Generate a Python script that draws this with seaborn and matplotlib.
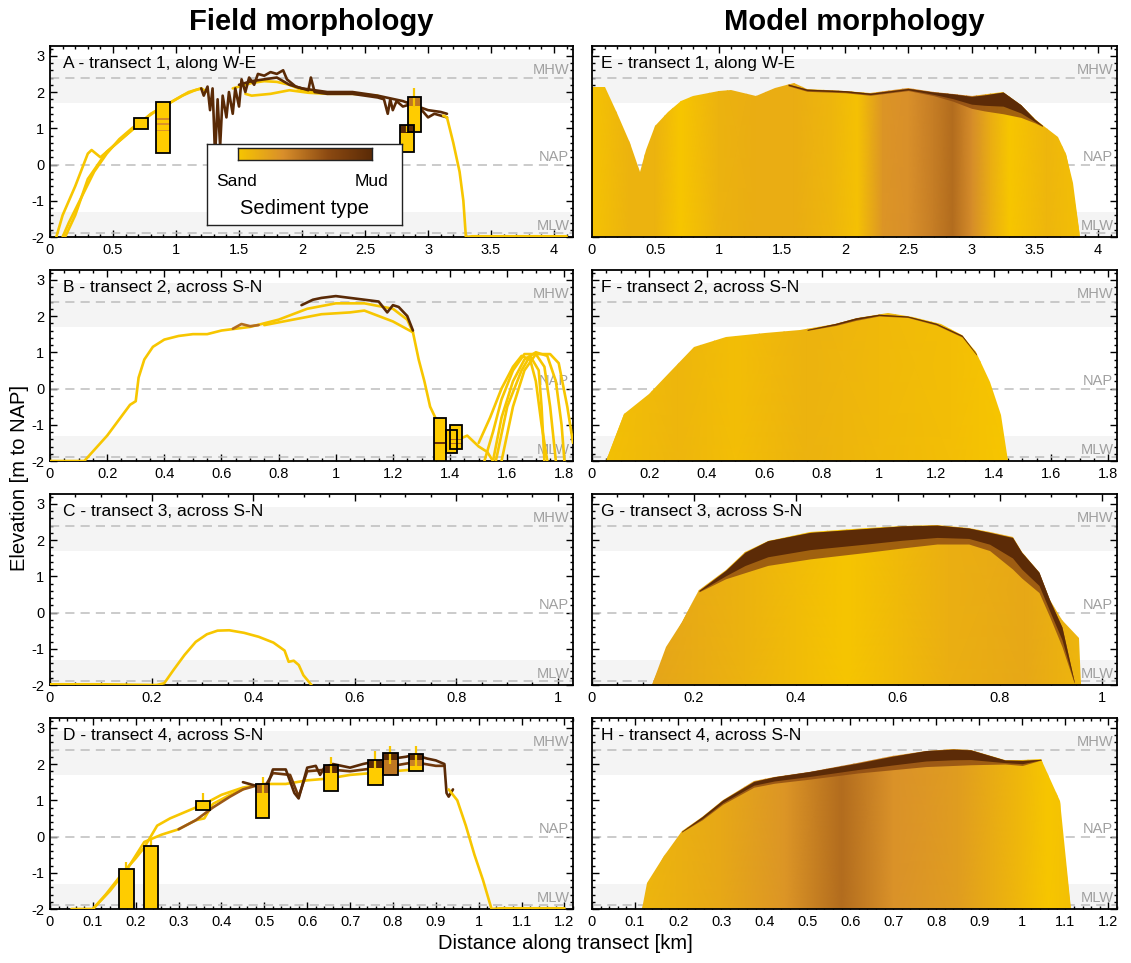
import numpy as np
import matplotlib
matplotlib.use("Agg")
import matplotlib.pyplot as plt
import seaborn as sns
from matplotlib.colors import LinearSegmentedColormap
from matplotlib.patches import PathPatch
from matplotlib.path import Path
from matplotlib.ticker import MultipleLocator, AutoMinorLocator, FuncFormatter

sns.set_theme(style="ticks")
plt.rcParams['font.family'] = ['Liberation Sans', 'DejaVu Sans']
plt.rcParams['text.color'] = 'black'
plt.rcParams['axes.labelcolor'] = 'black'
plt.rcParams['xtick.color'] = 'black'
plt.rcParams['ytick.color'] = 'black'

SED_COLORS = ['#F7C600', '#D98F2B', '#8C4A12', '#5A2A06']
sed_cmap = LinearSegmentedColormap.from_list('sediment', SED_COLORS)
CORE_FILL = '#FFCC00'
MUD_DARK = '#5C2B07'

# ---------------- axis settings ----------------
ROW_XLIM = [4.15, 1.83, 1.03, 1.22]
ROW_MAJOR = [0.5, 0.2, 0.2, 0.1]
FIELD_TITLES = ['A - transect 1, along W-E', 'B - transect 2, across S-N',
                'C - transect 3, across S-N', 'D - transect 4, across S-N']
MODEL_TITLES = ['E - transect 1, along W-E', 'F - transect 2, across S-N',
                'G - transect 3, across S-N', 'H - transect 4, across S-N']
LEVEL_NAMES = ['MHW', 'NAP', 'MLW']
LEVEL_VALUES = [2.4, 0.0, -1.9]
BAND_LOW = [1.7, -2.0]
BAND_HIGH = [2.9, -1.3]

# ---------------- field data (profiles: x [km], z [m], mud fraction) ----------------
A1_x = [0.05, 0.1, 0.2, 0.3, 0.33, 0.4, 0.5, 0.6, 0.7, 0.8, 0.9, 1.0, 1.1, 1.2, 1.25]
A1_z = [-2.0, -1.4, -0.6, 0.3, 0.4, 0.2, 0.5, 0.8, 1.1, 1.4, 1.6, 1.8, 2.0, 2.1, 2.0]
A2_x = [0.1, 0.15, 0.25, 0.35, 0.45, 0.55, 0.65, 0.75, 0.85, 0.95, 1.05, 1.15, 1.2]
A2_z = [-2.0, -1.6, -0.9, -0.2, 0.3, 0.7, 1.0, 1.25, 1.5, 1.7, 1.9, 2.05, 2.1]
A3_x = [0.12, 0.2, 0.3, 0.38, 0.45, 0.55, 0.7]
A3_z = [-2.0, -1.4, -0.4, 0.0, 0.35, 0.65, 1.1]
A4_x = [1.45, 1.5, 1.6, 1.7, 1.8, 1.9, 2.0, 2.05, 2.1]
A4_z = [2.1, 2.15, 2.25, 2.3, 2.28, 2.2, 2.05, 2.0, 2.0]
A5_x = [1.55, 1.6, 1.75, 1.9, 2.05, 2.2, 2.4, 2.6]
A5_z = [1.95, 1.9, 1.95, 2.05, 1.98, 1.95, 1.95, 1.9]
A6_x = [1.2, 1.22, 1.25, 1.27, 1.29, 1.3, 1.31, 1.33, 1.35, 1.37, 1.4, 1.42, 1.45, 1.47,
        1.5, 1.52, 1.55, 1.58, 1.62, 1.65, 1.7, 1.75, 1.8, 1.85, 1.88, 1.95, 2.0, 2.05,
        2.07, 2.1, 2.2, 2.3, 2.4, 2.5, 2.6, 2.65, 2.68, 2.7, 2.72, 2.75, 2.8, 2.85, 2.9,
        2.95, 3.0, 3.05, 3.1, 3.15]
A6_z = [2.1, 1.9, 2.15, 1.5, 2.1, 1.2, 0.2, 1.8, 0.5, 1.9, 1.3, 2.0, 1.4, 2.1,
        1.6, 2.35, 2.0, 2.4, 2.2, 2.5, 2.45, 2.55, 2.5, 2.6, 2.35, 2.15, 2.1, 2.05,
        2.4, 2.0, 1.95, 1.95, 1.95, 1.9, 1.85, 1.8, 1.4, 1.8, 1.5, 1.75, 1.6, 1.65, 1.4,
        1.5, 1.3, 1.4, 1.35, 1.3]
A7_x = [1.5, 1.6, 1.7, 1.8, 1.9, 2.0, 2.2, 2.4, 2.6, 2.8, 3.0, 3.1, 3.15]
A7_z = [2.2, 2.3, 2.35, 2.4, 2.2, 2.1, 2.0, 2.0, 1.9, 1.75, 1.5, 1.45, 1.4]
A8_x = [3.12, 3.15, 3.2, 3.25, 3.28, 3.3, 3.35, 4.1]
A8_z = [1.35, 1.3, 0.6, -0.2, -1.0, -2.0, -1.98, -1.98]
A_profiles = [(A1_x, A1_z, 0.0), (A2_x, A2_z, 0.0), (A3_x, A3_z, 0.0), (A4_x, A4_z, 0.0),
              (A5_x, A5_z, 0.0), (A7_x, A7_z, 1.0), (A6_x, A6_z, 1.0), (A8_x, A8_z, 0.0)]

B1_x = [0.0, 0.12, 0.2, 0.28, 0.3, 0.31, 0.33, 0.36, 0.4, 0.45, 0.5, 0.55, 0.6, 0.7, 0.8,
        0.9, 1.0, 1.1, 1.2, 1.25, 1.27, 1.29, 1.31, 1.33, 1.36, 1.38, 1.4, 1.43, 1.46,
        1.5, 1.53, 1.55]
B1_z = [-2.0, -2.0, -1.3, -0.45, -0.35, 0.3, 0.8, 1.15, 1.35, 1.45, 1.5, 1.5, 1.6, 1.7,
        1.9, 2.2, 2.35, 2.35, 2.2, 1.9, 1.55, 0.8, 0.2, -0.5, -1.0, -1.4, -1.6, -1.4,
        -1.3, -1.6, -1.75, -2.0]
B2_x = [0.75, 0.85, 0.95, 1.05, 1.1, 1.15, 1.2, 1.27]
B2_z = [1.75, 1.9, 2.05, 2.1, 2.15, 2.0, 1.85, 1.55]
B3_x = [0.88, 0.92, 0.95, 1.0, 1.05, 1.1, 1.15, 1.18, 1.2, 1.22, 1.25, 1.27]
B3_z = [2.3, 2.45, 2.5, 2.55, 2.5, 2.45, 2.4, 2.1, 2.3, 2.25, 2.0, 1.6]
B4_x = [0.64, 0.67, 0.7, 0.73]
B4_z = [1.65, 1.78, 1.72, 1.75]
B5_x = [1.52, 1.55, 1.58, 1.62, 1.66, 1.7, 1.73, 1.75, 1.77]
B5_z = [-2.0, -1.2, -0.3, 0.5, 0.95, 0.95, 0.6, -0.5, -2.0]
B6_x = [1.55, 1.58, 1.62, 1.66, 1.7, 1.74, 1.77, 1.79, 1.8]
B6_z = [-2.0, -0.8, 0.2, 0.8, 1.0, 0.9, 0.2, -1.0, -2.0]
B7_x = [1.58, 1.62, 1.66, 1.7, 1.75, 1.78, 1.81, 1.83]
B7_z = [-2.0, -0.5, 0.5, 0.95, 0.95, 0.7, -0.5, -1.5]
B8_x = [1.5, 1.54, 1.58, 1.62, 1.65, 1.68, 1.7, 1.72, 1.74]
B8_z = [-1.5, -0.8, 0.0, 0.6, 0.9, 0.8, 0.2, -1.0, -2.0]
B9_x = [1.56, 1.6, 1.65, 1.68, 1.71, 1.72, 1.73]
B9_z = [-2.0, -0.5, 0.5, 0.9, 0.5, -0.5, -2.0]
B_profiles = [(B1_x, B1_z, 0.0), (B2_x, B2_z, 0.0), (B3_x, B3_z, 1.0), (B4_x, B4_z, 0.5),
              (B5_x, B5_z, 0.0), (B6_x, B6_z, 0.0), (B7_x, B7_z, 0.0), (B8_x, B8_z, 0.0),
              (B9_x, B9_z, 0.0)]

C1_x = [0.0, 0.1, 0.21, 0.225, 0.243, 0.265, 0.287, 0.309, 0.33, 0.353, 0.382, 0.411,
        0.44, 0.462, 0.47, 0.48, 0.49, 0.499, 0.515]
C1_z = [-1.98, -1.98, -2.0, -1.95, -1.59, -1.17, -0.81, -0.6, -0.5, -0.49, -0.56, -0.67,
        -0.83, -1.05, -1.36, -1.33, -1.45, -1.73, -2.0]
C_profiles = [(C1_x, C1_z, 0.0)]

D1_x = [0.05, 0.1, 0.13, 0.17, 0.2, 0.22, 0.25, 0.28, 0.32, 0.36, 0.4, 0.45, 0.5, 0.55,
        0.6, 0.65, 0.7, 0.75, 0.8, 0.85]
D1_z = [-2.0, -2.0, -1.6, -1.0, -0.6, -0.3, 0.3, 0.5, 0.7, 0.9, 1.15, 1.35, 1.45, 1.45,
        1.55, 1.6, 1.7, 1.75, 1.8, 1.85]
D2_x = [0.1, 0.14, 0.18, 0.22, 0.26, 0.3, 0.34, 0.36, 0.38, 0.42, 0.45]
D2_z = [-2.0, -1.5, -0.9, -0.15, 0.05, 0.2, 0.45, 0.5, 0.9, 1.15, 1.3]
D3_x = [0.3, 0.34, 0.38, 0.42, 0.45, 0.48]
D3_z = [0.2, 0.45, 0.8, 1.1, 1.3, 1.4]
D4_x = [0.45, 0.48, 0.5, 0.51, 0.52, 0.55, 0.57, 0.58, 0.6, 0.62, 0.63, 0.64, 0.66, 0.7,
        0.73, 0.75, 0.78, 0.8, 0.83, 0.85, 0.88, 0.9, 0.92, 0.925, 0.93, 0.94]
D4_z = [1.5, 1.4, 1.3, 1.5, 1.85, 1.85, 1.2, 1.05, 1.9, 1.95, 1.7, 1.9, 2.0, 1.9,
        2.0, 2.05, 2.1, 2.15, 2.2, 2.25, 2.15, 2.1, 2.0, 1.2, 1.1, 1.3]
D5_x = [0.5, 0.52, 0.56, 0.58, 0.6, 0.65, 0.7, 0.8, 0.85, 0.9, 0.92]
D5_z = [1.35, 1.75, 1.7, 1.1, 1.8, 1.85, 1.8, 1.95, 2.05, 1.95, 1.95]
D6_x = [0.93, 0.95, 0.97, 0.99, 1.01, 1.03, 1.05, 1.2]
D6_z = [1.3, 1.0, 0.3, -0.5, -1.2, -2.0, -1.98, -1.98]
D_profiles = [(D1_x, D1_z, 0.0), (D2_x, D2_z, 0.0), (D3_x, D3_z, 0.6), (D5_x, D5_z, 0.85),
              (D4_x, D4_z, 1.0), (D6_x, D6_z, 0.0)]

FIELD_PROFILES = [A_profiles, B_profiles, C_profiles, D_profiles]

# ---------------- sediment cores (left edge, width, bottom, top) ----------------
A_core_left = [0.67, 0.84, 2.78, 2.84]
A_core_w = [0.11, 0.11, 0.11, 0.10]
A_core_bot = [0.99, 0.31, 0.34, 0.91]
A_core_top = [1.29, 1.72, 1.08, 1.87]
B_core_left = [1.345, 1.385, 1.40]
B_core_w = [0.04, 0.04, 0.04]
B_core_bot = [-2.0, -1.78, -1.68]
B_core_top = [-0.8, -1.15, -1.0]
C_core_left, C_core_w, C_core_bot, C_core_top = [], [], [], []
D_core_left = [0.162, 0.219, 0.341, 0.480, 0.638, 0.741, 0.777, 0.837]
D_core_w = [0.033, 0.033, 0.033, 0.032, 0.033, 0.035, 0.034, 0.034]
D_core_bot = [-2.0, -2.0, 0.72, 0.5, 1.25, 1.42, 1.7, 1.8]
D_core_top = [-0.9, -0.25, 0.98, 1.45, 1.98, 2.1, 2.3, 2.28]
CORES = [(A_core_left, A_core_w, A_core_bot, A_core_top),
         (B_core_left, B_core_w, B_core_bot, B_core_top),
         (C_core_left, C_core_w, C_core_bot, C_core_top),
         (D_core_left, D_core_w, D_core_bot, D_core_top)]

# core layers (left, width, bottom, top, mud)
A_lay_left = [0.84, 0.84, 0.84, 2.78, 2.84]
A_lay_w = [0.11, 0.11, 0.11, 0.11, 0.10]
A_lay_bot = [1.22, 1.10, 0.92, 0.86, 1.62]
A_lay_top = [1.28, 1.14, 0.95, 1.08, 1.85]
A_lay_mud = [0.35, 0.3, 0.3, 1.0, 0.45]
B_lay_left = [1.345, 1.40, 1.40]
B_lay_w = [0.04, 0.04, 0.04]
B_lay_bot = [-1.53, -1.52, -1.42]
B_lay_top = [-1.48, -1.49, -1.39]
B_lay_mud = [0.9, 0.5, 0.5]
C_lay_left, C_lay_w, C_lay_bot, C_lay_top, C_lay_mud = [], [], [], [], []
D_lay_left = [0.480, 0.638, 0.741, 0.777, 0.777, 0.837, 0.837]
D_lay_w = [0.032, 0.033, 0.035, 0.034, 0.034, 0.034, 0.034]
D_lay_bot = [1.2, 1.75, 1.88, 2.1, 1.7, 2.1, 1.95]
D_lay_top = [1.45, 1.98, 2.1, 2.3, 2.1, 2.28, 2.1]
D_lay_mud = [0.55, 1.0, 1.0, 1.0, 0.45, 1.0, 0.4]
LAYERS = [(A_lay_left, A_lay_w, A_lay_bot, A_lay_top, A_lay_mud),
          (B_lay_left, B_lay_w, B_lay_bot, B_lay_top, B_lay_mud),
          (C_lay_left, C_lay_w, C_lay_bot, C_lay_top, C_lay_mud),
          (D_lay_left, D_lay_w, D_lay_bot, D_lay_top, D_lay_mud)]

# yellow core markers (x, low, high)
A_stick_x, A_stick_lo, A_stick_hi = [2.89, 2.83], [1.6, 0.9], [2.1, 1.05]
B_stick_x, B_stick_lo, B_stick_hi = [], [], []
C_stick_x, C_stick_lo, C_stick_hi = [], [], []
D_stick_x = [0.178, 0.235, 0.357, 0.496, 0.655, 0.758, 0.794, 0.854]
D_stick_lo = [-0.9, -0.25, 0.95, 1.2, 1.75, 1.85, 2.0, 1.95]
D_stick_hi = [-0.7, -0.1, 1.2, 1.65, 2.2, 2.35, 2.5, 2.5]
STICKS = [(A_stick_x, A_stick_lo, A_stick_hi), (B_stick_x, B_stick_lo, B_stick_hi),
          (C_stick_x, C_stick_lo, C_stick_hi), (D_stick_x, D_stick_lo, D_stick_hi)]

# ---------------- model data ----------------
E_x = [0.0, 0.1, 0.2, 0.3, 0.38, 0.43, 0.5, 0.6, 0.7, 0.8, 1.0, 1.1, 1.3, 1.45, 1.6, 1.7,
       2.0, 2.2, 2.5, 2.7, 3.0, 3.25, 3.39, 3.5, 3.58, 3.68, 3.75, 3.8, 3.86]
E_z = [2.15, 2.15, 1.42, 0.58, -0.2, 0.4, 1.05, 1.46, 1.74, 1.88, 2.02, 2.06, 1.9, 2.1, 2.25,
       2.08, 2.04, 1.97, 2.1, 2.0, 1.88, 2.0, 1.65, 1.25, 1.03, 0.75, 0.3, -0.5, -2.0]
E_grad_x = [0.0, 0.3, 0.5, 0.7, 1.0, 1.3, 1.6, 1.9, 2.1, 2.3, 2.5, 2.7, 2.85, 3.0, 3.15,
            3.3, 3.6, 3.86]
E_grad_m = [0.02, 0.12, 0.12, 0.0, 0.12, 0.15, 0.15, 0.1, 0.03, 0.3, 0.33, 0.42, 0.5,
            0.35, 0.15, 0.0, 0.1, 0.04]
E_mud_x = [1.55, 1.7, 2.0, 2.2, 2.5, 2.7, 2.85, 3.0, 3.1, 3.25, 3.39, 3.5, 3.56]
E_mud_top = [2.22, 2.08, 2.04, 1.97, 2.1, 2.0, 1.95, 1.88, 1.92, 2.0, 1.65, 1.25, 1.08]
E_mud_base = [2.17, 2.02, 1.98, 1.91, 2.04, 1.9, 1.75, 1.55, 1.48, 1.4, 1.3, 1.15, 1.05]

F_x = [0.05, 0.112, 0.198, 0.272, 0.357, 0.468, 0.603, 0.726, 0.848, 0.922, 1.032, 1.118,
       1.216, 1.29, 1.339, 1.388, 1.425, 1.45]
F_z = [-2.0, -0.69, -0.14, 0.46, 1.15, 1.43, 1.52, 1.61, 1.79, 1.95, 2.07, 1.98, 1.79, 1.47,
       1.01, 0.18, -0.74, -2.0]
F_grad_x = [0.05, 0.3, 0.5, 0.75, 1.0, 1.25, 1.45]
F_grad_m = [0.04, 0.1, 0.05, 0.12, 0.08, 0.05, 0.0]
F_mud_x = [0.75, 0.85, 0.92, 1.0, 1.1, 1.2, 1.29, 1.34]
F_mud_top = [1.63, 1.8, 1.95, 2.05, 2.0, 1.8, 1.47, 0.95]
F_mud_base = [1.6, 1.74, 1.88, 2.0, 1.96, 1.75, 1.42, 0.92]

G_x = [0.117, 0.145, 0.176, 0.21, 0.262, 0.30, 0.345, 0.428, 0.539, 0.608, 0.677, 0.739,
       0.78, 0.825, 0.843, 0.877, 0.898, 0.922, 0.956, 0.96]
G_z = [-2.0, -0.94, -0.26, 0.61, 1.16, 1.66, 1.98, 2.21, 2.32, 2.39, 2.41, 2.33, 2.21, 2.07,
       1.66, 1.11, 0.34, -0.21, -0.71, -2.0]
G_grad_x = [0.117, 0.3, 0.5, 0.7, 0.85, 0.96]
G_grad_m = [0.2, 0.12, 0.01, 0.14, 0.18, 0.1]
G_mud_x = [0.21, 0.262, 0.30, 0.345, 0.428, 0.539, 0.608, 0.677, 0.739, 0.78, 0.825, 0.843,
           0.877, 0.898, 0.922, 0.946]
G_mud_top = [0.61, 1.16, 1.66, 1.98, 2.21, 2.32, 2.39, 2.41, 2.33, 2.21, 2.07, 1.66, 1.11,
             0.34, -0.4, -1.9]
G_mud_base = [0.57, 0.93, 1.1, 1.30, 1.48, 1.66, 1.78, 1.89, 1.89, 1.71, 1.2, 0.95, 0.55,
              -0.12, -0.94, -1.95]

H_x = [0.116, 0.128, 0.168, 0.208, 0.256, 0.304, 0.376, 0.424, 0.504, 0.616, 0.696, 0.776,
       0.84, 0.88, 0.92, 0.96, 1.0, 1.044, 1.088, 1.112]
H_z = [-2.0, -1.29, -0.55, 0.14, 0.55, 1.01, 1.52, 1.65, 1.79, 2.02, 2.21, 2.37, 2.41, 2.39,
       2.25, 2.11, 2.1, 2.13, 0.97, -2.0]
H_grad_x = [0.116, 0.3, 0.45, 0.58, 0.7, 0.85, 1.0, 1.06, 1.112]
H_grad_m = [0.1, 0.18, 0.3, 0.5, 0.32, 0.25, 0.08, 0.0, 0.04]
H_mud_x = [0.208, 0.256, 0.304, 0.376, 0.424, 0.504, 0.616, 0.696, 0.776, 0.84, 0.88, 0.92,
           0.96, 1.0, 1.044]
H_mud_top = [0.14, 0.55, 1.01, 1.52, 1.65, 1.79, 2.02, 2.21, 2.37, 2.41, 2.39, 2.25, 2.11,
             2.1, 2.13]
H_mud_base = [0.12, 0.46, 0.89, 1.36, 1.47, 1.58, 1.75, 1.84, 1.93, 1.96, 1.98, 1.99, 2.0,
              1.96, 2.11]

MODELS = [(E_x, E_z, E_grad_x, E_grad_m, E_mud_x, E_mud_top, E_mud_base),
          (F_x, F_z, F_grad_x, F_grad_m, F_mud_x, F_mud_top, F_mud_base),
          (G_x, G_z, G_grad_x, G_grad_m, G_mud_x, G_mud_top, G_mud_base),
          (H_x, H_z, H_grad_x, H_grad_m, H_mud_x, H_mud_top, H_mud_base)]

# ---------------- figure ----------------
fig = plt.figure(figsize=(11.31, 9.63), dpi=100)
col_left = [50 / 1131, 592 / 1131]
col_width = [523 / 1131, 525 / 1131]
row_top_px = [46, 270, 494, 718]
row_h_px = 191
YMIN, YMAX = -2.0, 3.27

fmt = FuncFormatter(lambda v, p: '%g' % round(v, 3))


def style_axes(ax, r, col):
    xmax = ROW_XLIM[r]
    for lo, hi in zip(BAND_LOW, BAND_HIGH):
        ax.axhspan(lo, hi, color='#F4F4F4', lw=0, zorder=0)
    for name, val in zip(LEVEL_NAMES, LEVEL_VALUES):
        ax.axhline(val, color='#BDBDBD', lw=1.1, ls=(0, (6, 4)), zorder=1)
        ax.text(xmax * 0.993, val + 0.02, name, ha='right', va='bottom',
                color='#A0A0A0', fontsize=10.5, zorder=1)
    ax.set_xlim(0, xmax)
    ax.set_ylim(YMIN, YMAX)
    ax.xaxis.set_major_locator(MultipleLocator(ROW_MAJOR[r]))
    ax.xaxis.set_minor_locator(AutoMinorLocator())
    ax.yaxis.set_major_locator(MultipleLocator(1))
    ax.yaxis.set_minor_locator(AutoMinorLocator(5))
    ax.xaxis.set_major_formatter(fmt)
    ax.yaxis.set_major_formatter(fmt)
    ax.tick_params(which='both', direction='in', top=True, right=True, width=1.0,
                   colors='black', labelsize=10.5, pad=4)
    ax.tick_params(which='major', length=5)
    ax.tick_params(which='minor', length=2.5)
    if col == 1:
        ax.tick_params(labelleft=False)
    for s in ax.spines.values():
        s.set_linewidth(1.3)
        s.set_color('black')
    ax.set_xlabel('')
    ax.set_ylabel('')
    ax.set_facecolor('white')


axes = {}
for r in range(4):
    for c in range(2):
        bottom = 1 - (row_top_px[r] + row_h_px) / 963
        ax = fig.add_axes([col_left[c], bottom, col_width[c], row_h_px / 963])
        axes[(r, c)] = ax

# field panels
for r in range(4):
    ax = axes[(r, 0)]
    for xs, zs, mud in FIELD_PROFILES[r]:
        sns.lineplot(x=xs, y=zs, color=sed_cmap(mud), lw=1.9, sort=False, estimator=None,
                     ax=ax, zorder=4, legend=False)
    left, w, bot, top = CORES[r]
    if left:
        h = [t - b for t, b in zip(top, bot)]
        ax.bar(left, h, width=w, bottom=bot, align='edge', color=CORE_FILL,
               edgecolor='none', zorder=5)
        ll, lw_, lb, lt, lm = LAYERS[r]
        if ll:
            lh = [t - b for t, b in zip(lt, lb)]
            ax.bar(ll, lh, width=lw_, bottom=lb, align='edge',
                   color=[sed_cmap(m) for m in lm], edgecolor='none', zorder=6)
        sx, slo, shi = STICKS[r]
        if sx:
            ax.vlines(sx, slo, shi, color='#F7C600', lw=1.6, zorder=6.5)
        ax.bar(left, h, width=w, bottom=bot, align='edge', color='none',
               edgecolor='black', lw=1.3, zorder=7)
    style_axes(ax, r, 0)
    ax.text(0.024, 0.95, FIELD_TITLES[r], transform=ax.transAxes, ha='left', va='top',
            fontsize=12.5, color='black', zorder=10)

# model panels
for r in range(4):
    ax = axes[(r, 1)]
    sx, sz, gx, gm, mx, mtop, mbase = MODELS[r]
    verts = [(sx[0], YMIN)] + list(zip(sx, sz)) + [(sx[-1], YMIN)]
    patch = PathPatch(Path(verts), transform=ax.transData, fc='none', ec='none')
    ax.add_patch(patch)
    X, Y = np.meshgrid(np.asarray(gx, float), [YMIN, YMAX])
    C = np.vstack([gm, gm])
    mesh = ax.pcolormesh(X, Y, C, cmap=sed_cmap, vmin=0, vmax=1, shading='gouraud', zorder=2)
    mesh.set_clip_path(patch)
    ax.fill_between(mx, mbase, mtop, color='#8C4A12', lw=0, zorder=3, alpha=0.8)
    ax.fill_between(mx, [b + 0.35 * (t - b) for b, t in zip(mbase, mtop)], mtop,
                    color=MUD_DARK, lw=0, zorder=3.1)
    style_axes(ax, r, 1)
    ax.text(0.018, 0.95, MODEL_TITLES[r], transform=ax.transAxes, ha='left', va='top',
            fontsize=12.5, color='black', zorder=10)

# legend box in panel A
axA = axes[(0, 0)]
leg = axA.inset_axes([0.30, 0.063, 0.373, 0.425])
leg.set_facecolor('white')
leg.set_xticks([])
leg.set_yticks([])
leg.set_zorder(20)
for s in leg.spines.values():
    s.set_linewidth(1.0)
    s.set_color('#222222')
cb = leg.inset_axes([0.159, 0.80, 0.687, 0.15])
cb.imshow(np.linspace(0, 1, 256)[None, :], cmap=sed_cmap, aspect='auto')
cb.set_xticks([])
cb.set_yticks([])
for s in cb.spines.values():
    s.set_linewidth(1.0)
    s.set_color('#222222')
leg.text(0.05, 0.54, 'Sand', transform=leg.transAxes, ha='left', va='center', fontsize=12.5,
         color='black')
leg.text(0.93, 0.54, 'Mud', transform=leg.transAxes, ha='right', va='center', fontsize=12.5,
         color='black')
leg.text(0.5, 0.2, 'Sediment type', transform=leg.transAxes, ha='center', va='center',
         fontsize=14.5, color='black')

# titles and axis labels
fig.text(col_left[0] + col_width[0] / 2, 1 - 22 / 963, 'Field morphology', ha='center',
         va='center', fontsize=21, fontweight='bold', color='black')
fig.text(col_left[1] + col_width[1] / 2, 1 - 22 / 963, 'Model morphology', ha='center',
         va='center', fontsize=21, fontweight='bold', color='black')
fig.text(20 / 1131, 1 - 478 / 963, 'Elevation [m to NAP]', rotation=90, ha='center',
         va='center', fontsize=14.5, color='black')
fig.text(565 / 1131, 1 - 943 / 963, 'Distance along transect [km]', ha='center',
         va='center', fontsize=14.5, color='black')

fig.savefig('out.png', dpi=100, facecolor='white')
